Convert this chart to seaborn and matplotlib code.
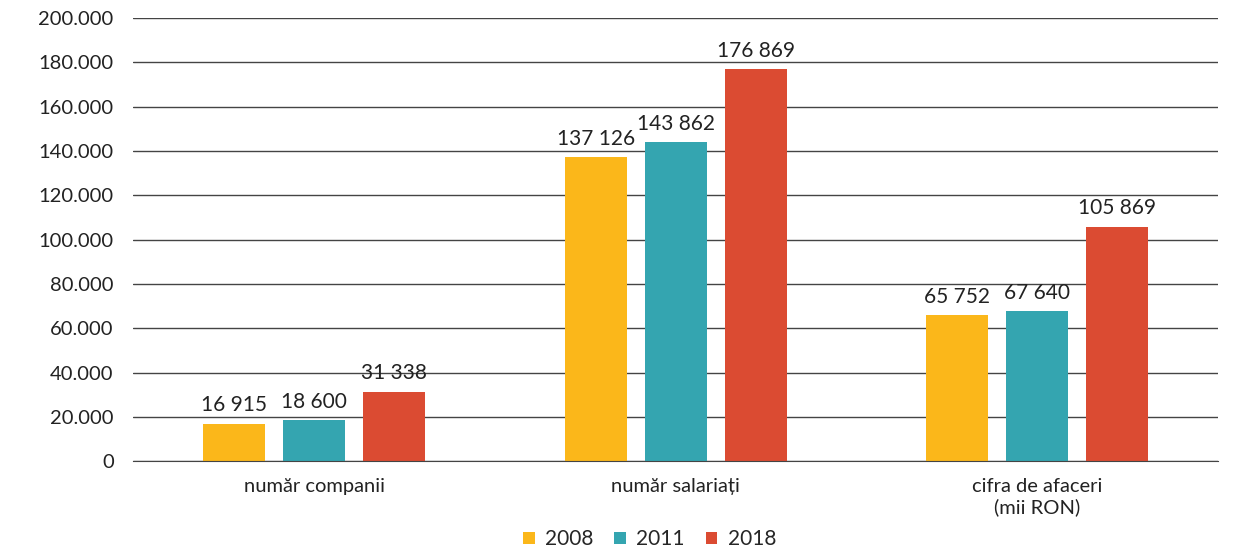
import pandas as pd
import matplotlib.pyplot as plt
import seaborn as sns

# data
categories = ["număr companii", "număr salariați", "cifra de afaceri\n(mii RON)"]
years = ["2008", "2011", "2018"]
v2008 = [16915, 137126, 65752]
v2011 = [18600, 143862, 67640]
v2018 = [31338, 176869, 105869]
yticks = [0, 20000, 40000, 60000, 80000, 100000, 120000, 140000, 160000, 180000, 200000]

colors = ["#FBB71A", "#34A5B0", "#DB4B32"]

df = pd.DataFrame({
    "cat": categories * 3,
    "year": [y for y in years for _ in categories],
    "val": v2008 + v2011 + v2018,
})

sns.set_style("white")
plt.rcParams["font.family"] = ["Lato", "DejaVu Sans"]

fig = plt.figure(figsize=(12.33, 5.47), dpi=100)
ax = fig.add_axes([0.108, 0.157, 0.880, 0.810])

sns.barplot(data=df, x="cat", y="val", hue="year", palette=colors,
            width=0.664, gap=0.226, ax=ax, saturation=1, edgecolor="none")

for cont in ax.containers:
    labels = [f"{int(v):,}".replace(",", " ") for v in cont.datavalues]
    ax.bar_label(cont, labels=labels, padding=6, fontsize=15, color="#222222")

ax.set_ylim(0, 200000)
ax.set_xlim(-0.5, 2.5)
ax.set_yticks(yticks)
ax.set_yticklabels([f"{t:,}".replace(",", ".") for t in yticks], fontsize=14.5, color="#222222")
ax.tick_params(axis="x", labelsize=14.5, colors="#222222", length=0, pad=12)
ax.tick_params(axis="y", length=0, pad=14)
ax.grid(axis="y", color="#444444", linewidth=1)
ax.set_axisbelow(True)
for s in ["top", "right", "left"]:
    ax.spines[s].set_visible(False)
ax.spines["bottom"].set_color("#444444")
ax.set_xlabel("")
ax.set_ylabel("")

ax.legend(loc="lower center", bbox_to_anchor=(0.476, -0.232), ncol=3, frameon=False,
          fontsize=15, handlelength=0.55, handleheight=0.55, handletextpad=0.5,
          columnspacing=1.0, borderpad=0.2)

fig.savefig("out.png", dpi=100)
